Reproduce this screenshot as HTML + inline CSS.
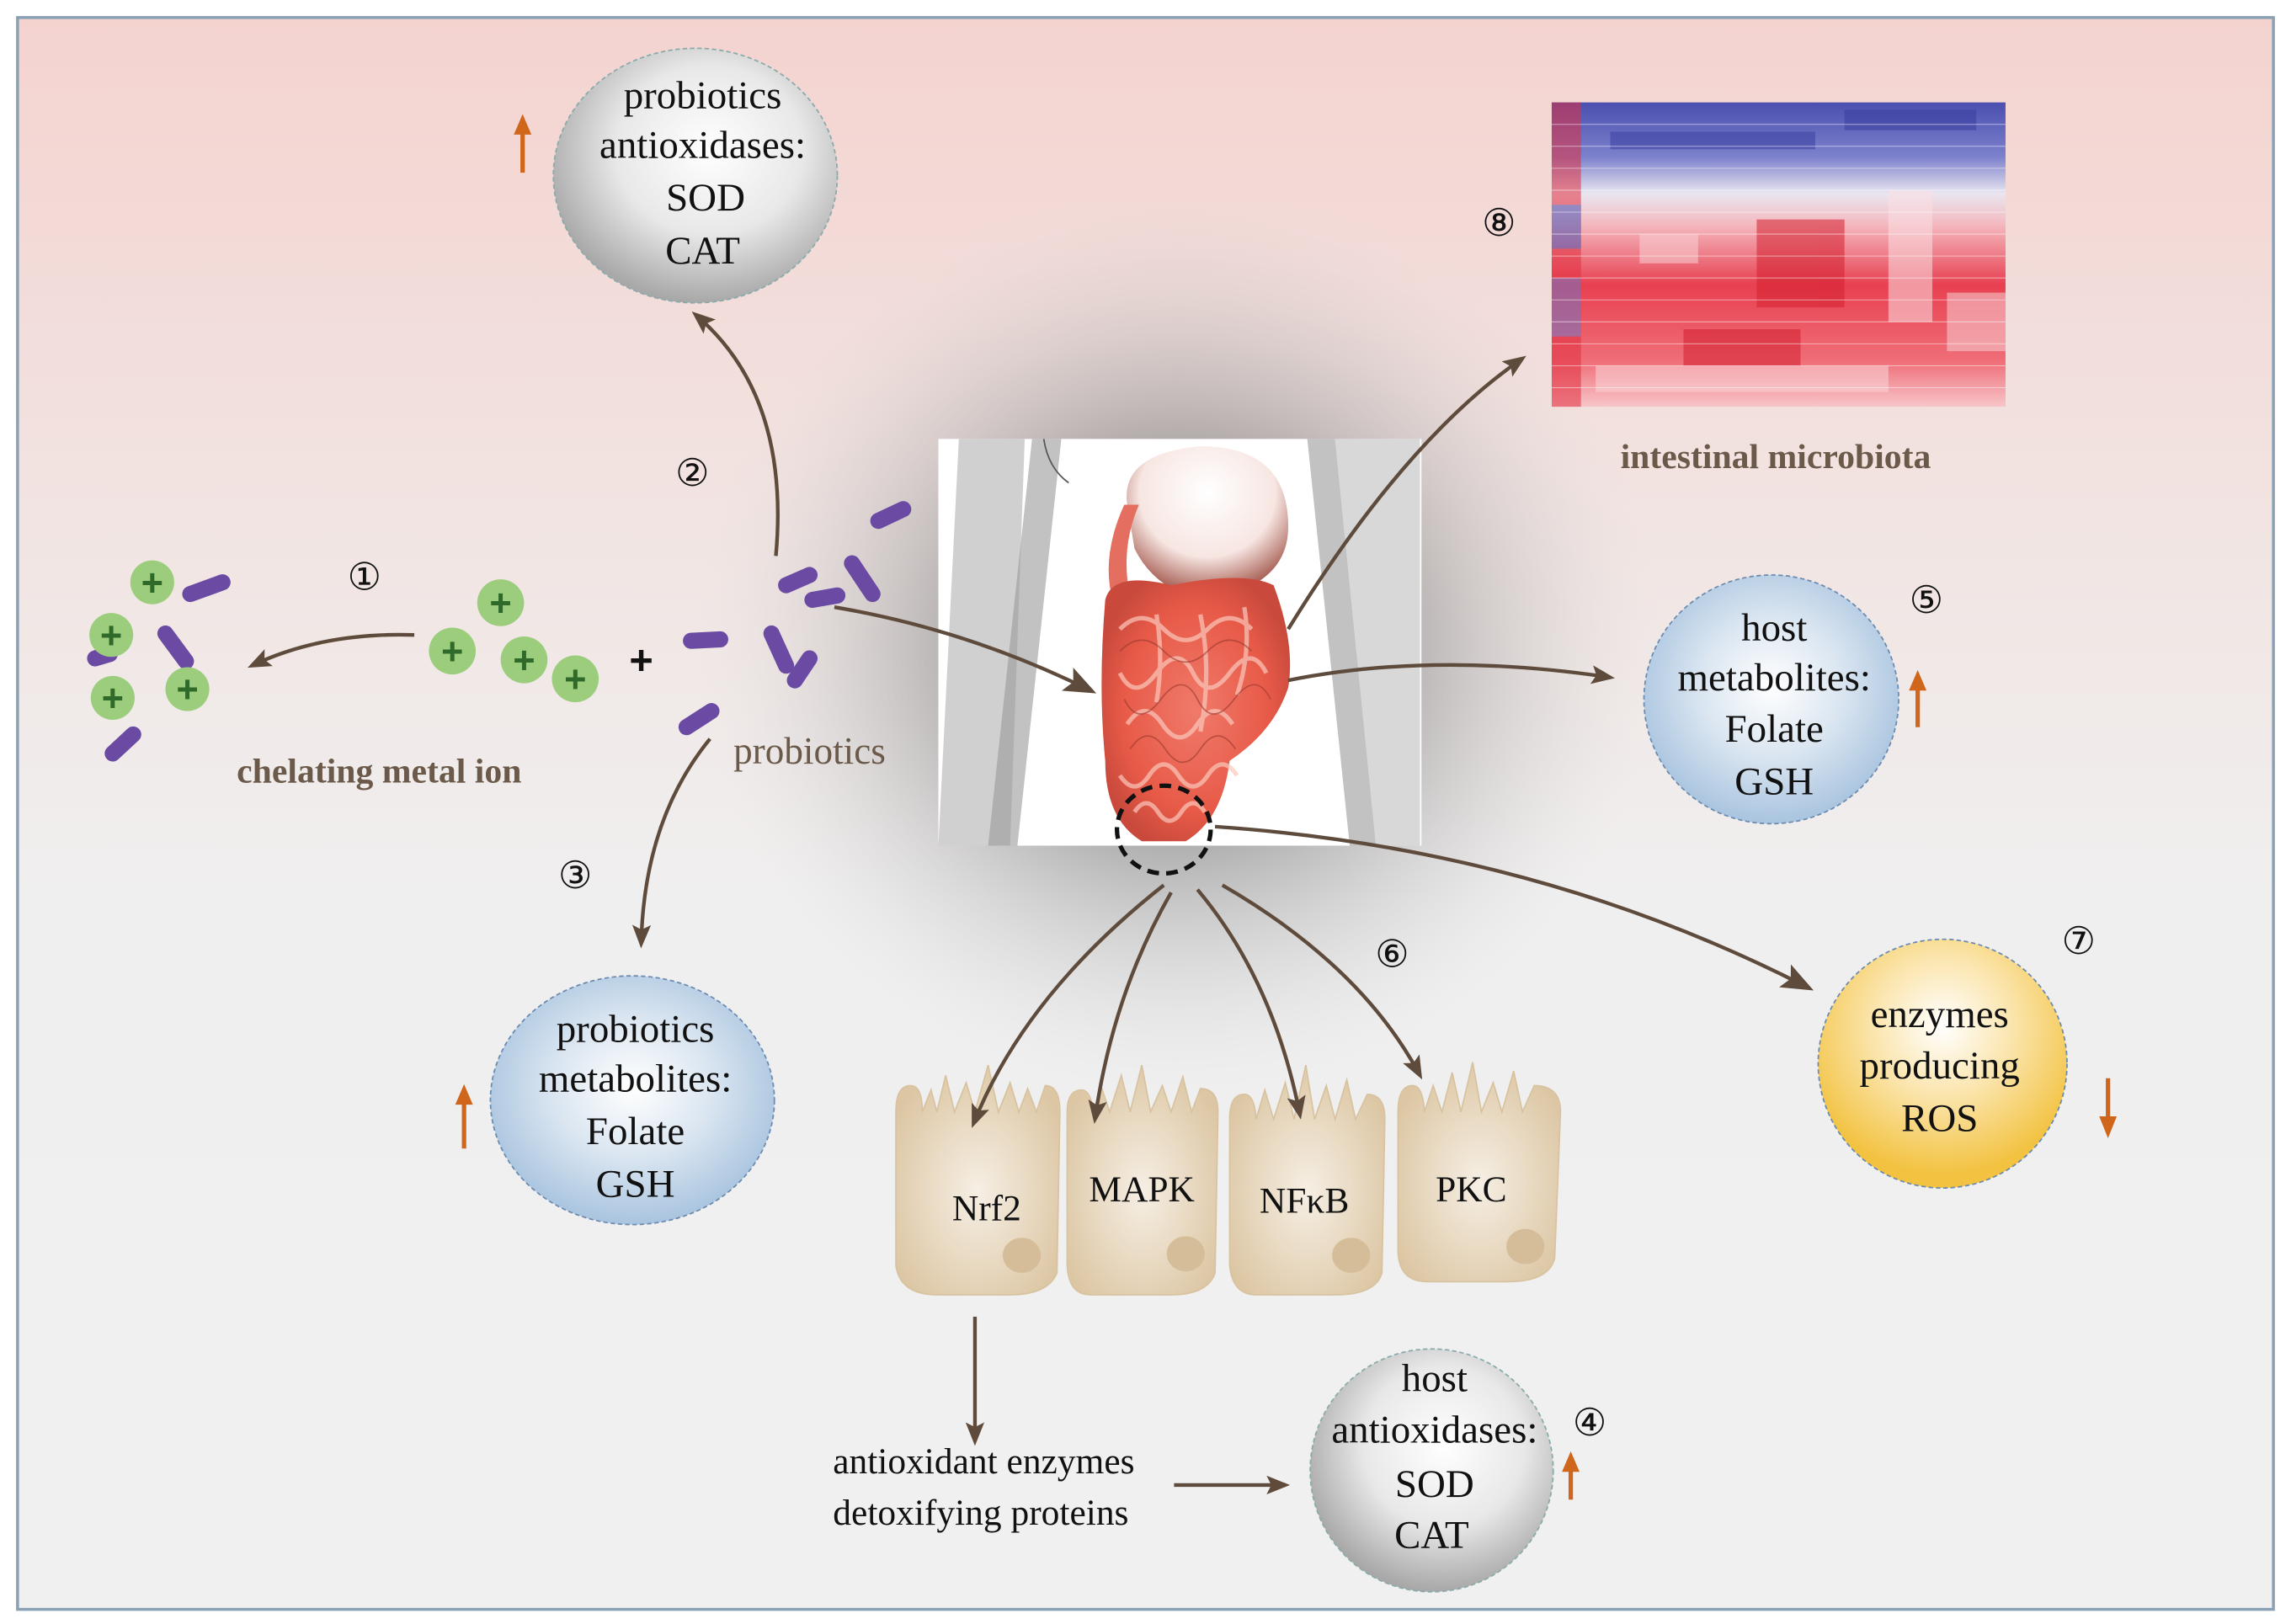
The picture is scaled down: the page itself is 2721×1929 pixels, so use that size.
<!DOCTYPE html>
<html><head><meta charset="utf-8"><style>
html,body{margin:0;padding:0;background:#fff}
svg{display:block}
</style></head><body>
<svg width="2721" height="1929" viewBox="0 0 1565 1110" preserveAspectRatio="none" xmlns="http://www.w3.org/2000/svg" font-family="'Liberation Serif', 'Times New Roman', serif">
<defs>
<linearGradient id="bg" x1="0" y1="0" x2="0" y2="1">
<stop offset="0" stop-color="#f4d3cf"/><stop offset="0.35" stop-color="#f1e6e4"/><stop offset="0.55" stop-color="#f0efef"/><stop offset="1" stop-color="#f0f0f0"/>
</linearGradient>
<radialGradient id="glow" cx="0.5" cy="0.5" r="0.5">
<stop offset="0" stop-color="#555" stop-opacity="0.9"/><stop offset="0.45" stop-color="#888" stop-opacity="0.6"/><stop offset="1" stop-color="#ddd" stop-opacity="0"/>
</radialGradient>
<radialGradient id="gray" cx="0.55" cy="0.4" r="0.6">
<stop offset="0" stop-color="#ffffff"/><stop offset="0.55" stop-color="#e8e8e8"/><stop offset="1" stop-color="#a8a8a8"/>
</radialGradient>
<radialGradient id="blue" cx="0.5" cy="0.45" r="0.55">
<stop offset="0" stop-color="#ffffff"/><stop offset="0.5" stop-color="#dbe6f1"/><stop offset="1" stop-color="#a9c4df"/>
</radialGradient>
<radialGradient id="yellow" cx="0.5" cy="0.35" r="0.6">
<stop offset="0" stop-color="#ffffff"/><stop offset="0.45" stop-color="#fbe6b0"/><stop offset="1" stop-color="#f2c240"/>
</radialGradient>
<radialGradient id="cell" cx="0.5" cy="0.55" r="0.6">
<stop offset="0" stop-color="#f6efe4"/><stop offset="1" stop-color="#dcc6a3"/>
</radialGradient>
<radialGradient id="gut" cx="0.5" cy="0.5" r="0.55">
<stop offset="0" stop-color="#f07a6a"/><stop offset="0.7" stop-color="#e85a48"/><stop offset="1" stop-color="#c94a3c"/>
</radialGradient>
<radialGradient id="stom" cx="0.5" cy="0.3" r="0.7">
<stop offset="0" stop-color="#ffffff"/><stop offset="0.6" stop-color="#f7e6e2"/><stop offset="1" stop-color="#9a4a3e"/>
</radialGradient>
<linearGradient id="hmtop" x1="0" y1="0" x2="0" y2="1">
<stop offset="0" stop-color="#4a4fb0"/><stop offset="0.18" stop-color="#7d82cc"/><stop offset="0.3" stop-color="#e9e6f0"/><stop offset="0.4" stop-color="#f4b9c0"/><stop offset="0.6" stop-color="#e84050"/><stop offset="0.85" stop-color="#ef6e78"/><stop offset="1" stop-color="#f7c5c9"/>
</linearGradient>
<marker id="ahb" viewBox="0 0 10 10" refX="8" refY="5" markerWidth="22" markerHeight="22" orient="auto" markerUnits="userSpaceOnUse">
<path d="M0,1 L10,5 L0,9 L2,5 Z" fill="#5e4b3c"/>
</marker>
<marker id="ahm" viewBox="0 0 10 10" refX="8" refY="5" markerWidth="16" markerHeight="16" orient="auto" markerUnits="userSpaceOnUse">
<path d="M0,1 L10,5 L0,9 L2,5 Z" fill="#5e4b3c"/>
</marker>
</defs>

<rect x="0" y="0" width="1565" height="1110" fill="#ffffff"/>
<rect x="12" y="12" width="1541" height="1088" fill="url(#bg)" stroke="#8aa0b4" stroke-width="2"/>
<ellipse cx="805" cy="440" rx="330" ry="310" fill="url(#glow)"/>

<!-- body image -->
<rect x="641" y="300" width="330" height="278" fill="#ffffff"/>
<path d="M655,300 L700,300 L690,578 L641,578 Z" fill="#d0d0d0"/>
<path d="M705,300 L725,300 L695,578 L675,578 Z" fill="#9a9a9a" opacity="0.6"/>
<path d="M893,300 L912,300 L940,578 L922,578 Z" fill="#9a9a9a" opacity="0.6"/>
<path d="M912,300 L970,300 L970,578 L940,578 Z" fill="#d8d8d8"/>
<path d="M713,300 Q716,320 730,330" stroke="#555" fill="none"/>
<path d="M770,345 Q765,310 820,305 Q880,305 880,360 Q880,400 825,410 Q790,405 775,375 Z" fill="url(#stom)"/>
<path d="M768,345 Q752,380 760,410 L772,408 Q765,375 778,345 Z" fill="#e46f60"/>
<path d="M755,410 Q760,390 800,400 Q850,390 870,400 Q885,440 880,470 Q870,500 840,520 Q835,560 810,575 L780,575 Q755,560 755,520 Q750,470 755,410 Z" fill="url(#gut)"/>
<g stroke="#fbc8bc" stroke-width="3" fill="none" opacity="0.7">
<path d="M765,430 q15,-15 30,0 t30,0 t30,0"/>
<path d="M765,460 q10,20 25,0 t25,0 t25,0 t25,0"/>
<path d="M770,495 q12,-18 24,0 t24,0 t24,0"/>
<path d="M765,530 q10,15 20,0 t20,0 t20,0 t20,0"/>
<path d="M775,555 q8,-12 16,0 t16,0 t16,0"/>
<path d="M790,420 q5,30 0,60 M820,420 q8,40 0,80 M850,415 q5,30 -5,60"/>
</g>
<g stroke="#9a3a30" stroke-width="1" fill="none" opacity="0.6">
<path d="M765,445 q15,-15 30,0 t30,0 t30,0"/>
<path d="M768,478 q10,20 25,0 t25,0 t25,0 t25,0"/>
<path d="M772,512 q12,-18 24,0 t24,0 t24,0"/>
</g>
<ellipse cx="795" cy="567" rx="32" ry="30" fill="none" stroke="#111" stroke-width="3" stroke-dasharray="8,5"/>

<!-- heatmap -->
<rect x="1060" y="70" width="310" height="208" fill="url(#hmtop)"/>
<g opacity="0.55">
<rect x="1060" y="70" width="20" height="208" fill="#e23040"/>
<rect x="1060" y="140" width="20" height="30" fill="#4a4fb0"/>
<rect x="1060" y="190" width="20" height="40" fill="#6f74c4"/>
<rect x="1120" y="160" width="40" height="20" fill="#f7d0d4"/>
<rect x="1200" y="150" width="60" height="60" fill="#d42030"/>
<rect x="1290" y="130" width="30" height="90" fill="#fbe0e3"/>
<rect x="1330" y="200" width="40" height="40" fill="#f7d0d4"/>
<rect x="1150" y="225" width="80" height="25" fill="#d42030"/>
<rect x="1100" y="90" width="140" height="12" fill="#3a3fa0"/>
<rect x="1260" y="75" width="90" height="14" fill="#3a3fa0"/>
<rect x="1090" y="250" width="200" height="18" fill="#fbd5d8"/>
</g>
<g stroke="#ffffff" stroke-width="0.6" opacity="0.5">
<line x1="1060" y1="85" x2="1370" y2="85"/><line x1="1060" y1="100" x2="1370" y2="100"/><line x1="1060" y1="115" x2="1370" y2="115"/><line x1="1060" y1="130" x2="1370" y2="130"/><line x1="1060" y1="145" x2="1370" y2="145"/><line x1="1060" y1="160" x2="1370" y2="160"/><line x1="1060" y1="175" x2="1370" y2="175"/><line x1="1060" y1="190" x2="1370" y2="190"/><line x1="1060" y1="205" x2="1370" y2="205"/><line x1="1060" y1="220" x2="1370" y2="220"/><line x1="1060" y1="235" x2="1370" y2="235"/><line x1="1060" y1="250" x2="1370" y2="250"/><line x1="1060" y1="265" x2="1370" y2="265"/>
</g>
<text x="1213" y="320" font-size="24" font-weight="bold" fill="#6b5a4a" text-anchor="middle">intestinal microbiota</text>

<!-- circles -->
<ellipse cx="475" cy="120" rx="97" ry="87" fill="url(#gray)" stroke="#8aa" stroke-dasharray="3,2"/>
<g font-size="27" text-anchor="middle" fill="#111">
<text x="480" y="74">probiotics</text><text x="480" y="108">antioxidases:</text><text x="482" y="144">SOD</text><text x="480" y="180">CAT</text>
</g>
<ellipse cx="1210" cy="478" rx="87" ry="85" fill="url(#blue)" stroke="#6a8ab0" stroke-dasharray="3,2"/>
<g font-size="27" text-anchor="middle" fill="#111">
<text x="1212" y="438">host</text><text x="1212" y="472">metabolites:</text><text x="1212" y="507">Folate</text><text x="1212" y="543">GSH</text>
</g>
<ellipse cx="432" cy="752" rx="97" ry="85" fill="url(#blue)" stroke="#6a8ab0" stroke-dasharray="3,2"/>
<g font-size="27" text-anchor="middle" fill="#111">
<text x="434" y="712">probiotics</text><text x="434" y="746">metabolites:</text><text x="434" y="782">Folate</text><text x="434" y="818">GSH</text>
</g>
<ellipse cx="1327" cy="727" rx="85" ry="85" fill="url(#yellow)" stroke="#6a8ab0" stroke-dasharray="3,2"/>
<g font-size="27" text-anchor="middle" fill="#111">
<text x="1325" y="702">enzymes</text><text x="1325" y="737">producing</text><text x="1325" y="773">ROS</text>
</g>
<ellipse cx="978" cy="1005" rx="83" ry="83" fill="url(#gray)" stroke="#8aa" stroke-dasharray="3,2"/>
<g font-size="27" text-anchor="middle" fill="#111">
<text x="980" y="951">host</text><text x="980" y="986">antioxidases:</text><text x="980" y="1023">SOD</text><text x="978" y="1058">CAT</text>
</g>

<!-- orange arrows -->
<g stroke="#d0661c" stroke-width="3">
<line x1="357" y1="90" x2="357" y2="118"/>
<line x1="1310" y1="470" x2="1310" y2="497"/>
<line x1="317" y1="753" x2="317" y2="785"/>
<line x1="1073" y1="1004" x2="1073" y2="1025"/>
<line x1="1440" y1="737" x2="1440" y2="765"/>
</g>
<g fill="#d0661c">
<path d="M351,92 L357,78 L363,92 Z"/>
<path d="M1304,472 L1310,458 L1316,472 Z"/>
<path d="M311,755 L317,741 L323,755 Z"/>
<path d="M1067,1006 L1073,992 L1079,1006 Z"/>
<path d="M1434,763 L1440,778 L1446,763 Z"/>
</g>

<!-- numbers -->
<g font-size="26" text-anchor="middle" fill="#111">
<text x="249" y="403">①</text><text x="473" y="332">②</text><text x="393" y="607">③</text><text x="1086" y="981">④</text>
<text x="1316" y="419">⑤</text><text x="951" y="661">⑥</text><text x="1420" y="652">⑦</text><text x="1024" y="161">⑧</text>
</g>

<!-- bacteria -->
<g fill="#6a4aa2" stroke="#6a4aa2" stroke-linecap="round" stroke-width="11">
<line x1="130" y1="406" x2="152" y2="398"/><line x1="113" y1="433" x2="127" y2="452"/><line x1="77" y1="515" x2="91" y2="502"/><line x1="65" y1="450" x2="75" y2="447"/>
<line x1="600" y1="356" x2="617" y2="348"/><line x1="537" y1="400" x2="553" y2="393"/><line x1="555" y1="410" x2="572" y2="407"/><line x1="582" y1="385" x2="596" y2="406"/>
<line x1="472" y1="438" x2="492" y2="437"/><line x1="527" y1="433" x2="537" y2="455"/><line x1="543" y1="465" x2="553" y2="450"/><line x1="469" y1="497" x2="486" y2="486"/>
</g>
<!-- metal ions -->
<g fill="#9ccd7c">
<circle cx="104" cy="398" r="15"/><circle cx="76" cy="434" r="15"/><circle cx="77" cy="477" r="15"/><circle cx="128" cy="471" r="15"/>
<circle cx="342" cy="412" r="16"/><circle cx="309" cy="445" r="16"/><circle cx="358" cy="451" r="16"/><circle cx="393" cy="464" r="16"/>
</g>
<g font-family="'Liberation Sans', sans-serif" font-size="26" font-weight="bold" fill="#2f6a2a" text-anchor="middle">
<text x="104" y="407">+</text><text x="76" y="443">+</text><text x="77" y="486">+</text><text x="128" y="480">+</text>
<text x="342" y="421">+</text><text x="309" y="454">+</text><text x="358" y="460">+</text><text x="393" y="473">+</text>
</g>
<text x="438" y="461" font-family="'Liberation Sans', sans-serif" font-size="28" font-weight="bold" fill="#111" text-anchor="middle">+</text>

<text x="259" y="535" font-size="24" font-weight="bold" fill="#6b5a4a" text-anchor="middle">chelating metal ion</text>
<text x="553" y="522" font-size="26" fill="#6b5a4a" text-anchor="middle">probiotics</text>

<!-- cells -->
<g fill="url(#cell)" stroke="#d8c3a0" stroke-width="1">
<path d="M612,760 Q612,742 622,742 Q630,742 630,760 L636,745 L640,760 L646,735 L652,760 L660,740 L666,760 L675,728 L682,760 L690,740 L696,760 L702,744 L708,760 L714,742 Q724,742 724,760 L722,870 Q716,885 690,885 L640,885 Q615,885 612,865 Z"/>
<path d="M729,760 Q729,745 739,745 Q745,745 747,760 L752,742 L758,760 L766,735 L772,760 L780,728 L786,760 L794,742 L800,760 L808,736 L814,760 L820,744 Q832,744 832,760 L830,870 Q825,885 800,885 L745,885 Q730,885 729,865 Z"/>
<path d="M840,765 Q840,748 850,748 Q857,748 858,765 L864,745 L870,765 L878,740 L884,765 L892,728 L898,765 L906,742 L912,765 L920,738 L926,765 L934,748 Q946,748 946,765 L944,870 Q940,885 912,885 L858,885 Q842,885 840,865 Z"/>
<path d="M955,760 Q955,742 965,742 Q972,742 973,760 L979,742 L985,760 L992,733 L998,760 L1006,726 L1012,760 L1020,740 L1026,760 L1034,732 L1040,760 L1048,742 Q1066,742 1066,760 L1062,860 Q1058,876 1030,876 L975,876 Q956,876 955,856 Z"/>
</g>
<g fill="#d4bd98">
<ellipse cx="698" cy="858" rx="13" ry="12"/><ellipse cx="810" cy="857" rx="13" ry="12"/><ellipse cx="923" cy="858" rx="13" ry="12"/><ellipse cx="1042" cy="852" rx="13" ry="12"/>
</g>
<g font-size="25" fill="#111" text-anchor="middle">
<text x="674" y="834">Nrf2</text><text x="780" y="821">MAPK</text><text x="891" y="829">NFκB</text><text x="1005" y="821">PKC</text>
</g>

<g font-size="25" fill="#111" text-anchor="middle">
<text x="672" y="1007">antioxidant enzymes</text><text x="670" y="1042">detoxifying proteins</text>
</g>

<!-- connectors -->
<g stroke="#5e4b3c" stroke-width="2.5" fill="none">
<path d="M283,434 Q220,432 172,455" marker-end="url(#ahm)"/>
<path d="M530,380 Q540,270 475,215" marker-end="url(#ahm)"/>
<path d="M485,505 Q440,560 438,645" marker-end="url(#ahm)"/>
<path d="M570,415 Q660,430 745,472" marker-end="url(#ahb)"/>
<path d="M880,430 Q960,300 1040,245" marker-end="url(#ahm)"/>
<path d="M880,465 Q980,445 1100,463" marker-end="url(#ahm)"/>
<path d="M830,565 Q1050,580 1235,675" marker-end="url(#ahb)"/>
<path d="M795,605 Q700,680 665,768" marker-end="url(#ahm)"/>
<path d="M800,610 Q760,680 748,765" marker-end="url(#ahm)"/>
<path d="M818,608 Q870,670 888,762" marker-end="url(#ahm)"/>
<path d="M835,605 Q930,660 970,735" marker-end="url(#ahm)"/>
<path d="M666,900 L666,985" marker-end="url(#ahm)"/>
<path d="M802,1015 L878,1015" marker-end="url(#ahm)"/>
</g>
</svg>
</body></html>
